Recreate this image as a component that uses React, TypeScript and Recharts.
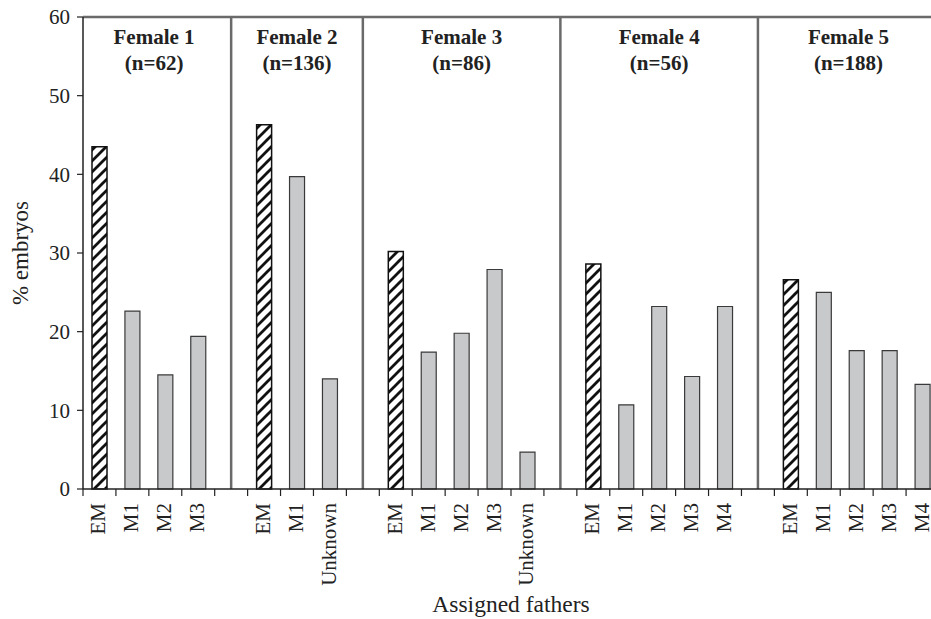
import React from "react";
import { BarChart, Bar, XAxis, YAxis, Cell, ReferenceLine, ReferenceArea } from "recharts";

const groupTitles = ["Female 1", "Female 2", "Female 3", "Female 4", "Female 5"];
const groupSizes = ["(n=62)", "(n=136)", "(n=86)", "(n=56)", "(n=188)"];
const fathers = [
  ["EM", "M1", "M2", "M3"],
  ["EM", "M1", "Unknown"],
  ["EM", "M1", "M2", "M3", "Unknown"],
  ["EM", "M1", "M2", "M3", "M4"],
  ["EM", "M1", "M2", "M3", "M4"],
];
const percents = [
  [43.5, 22.6, 14.5, 19.4],
  [46.3, 39.7, 14.0],
  [30.2, 17.4, 19.8, 27.9, 4.7],
  [28.6, 10.7, 23.2, 14.3, 23.2],
  [26.6, 25.0, 17.6, 17.6, 13.3],
];
const yTicks = [0, 10, 20, 30, 40, 50, 60];

type Row = { id: string; label: string; v: number | null; em: boolean };

const rows: Row[] = [];
fathers.forEach((list, g) => {
  list.forEach((f, i) => rows.push({ id: `g${g}-${i}`, label: f, v: percents[g][i], em: f === "EM" }));
  if (g < fathers.length - 1) rows.push({ id: `sep${g}`, label: "", v: null, em: false });
});
const labelOf: Record<string, string> = {};
rows.forEach((r) => (labelOf[r.id] = r.label));

const FONT = "'Liberation Serif', 'Times New Roman', serif";
const W = 939;
const H = 619;
const Y_AXIS_W = 83;
const X_AXIS_H = 130;
const TOP = 17;
const band = (W - Y_AXIS_W) / rows.length;
const TICK_SIZE = 7;
const TICK_MARGIN = 7;

const FatherTick = (props: any) => {
  const { x, y, payload } = props;
  const axisY = y - TICK_SIZE - TICK_MARGIN;
  const bx = x - band / 2;
  return (
    <g>
      <line x1={bx} x2={bx} y1={axisY} y2={axisY + TICK_SIZE} stroke="#222" strokeWidth={1.2} />
      <text
        x={x - 1}
        y={y}
        transform={`rotate(-90, ${x - 1}, ${y})`}
        textAnchor="end"
        dominantBaseline="central"
        fontFamily={FONT}
        fontSize={21}
        fill="#222"
      >
        {labelOf[payload.value]}
      </text>
    </g>
  );
};

const GroupTitle = (props: any) => {
  const { viewBox, title, size, shift } = props;
  if (!viewBox) return null;
  const cx = viewBox.x + viewBox.width / 2 + shift;
  return (
    <g>
      <text x={cx} y={44} textAnchor="middle" fontFamily={FONT} fontSize={21} fontWeight="bold" fill="#222">
        {title}
      </text>
      <text x={cx} y={70} textAnchor="middle" fontFamily={FONT} fontSize={21} fontWeight="bold" fill="#222">
        {size}
      </text>
    </g>
  );
};

const YLabel = (props: any) => {
  const { viewBox } = props;
  const cy = viewBox ? viewBox.y + viewBox.height / 2 : 253;
  return (
    <text
      x={20}
      y={cy}
      transform={`rotate(-90, 20, ${cy})`}
      textAnchor="middle"
      dominantBaseline="central"
      fontFamily={FONT}
      fontSize={23}
      fill="#222"
    >
      % embryos
    </text>
  );
};

const XLabel = (props: any) => {
  const { viewBox } = props;
  const cx = viewBox ? viewBox.x + viewBox.width / 2 : 510;
  return (
    <text x={cx} y={612} textAnchor="middle" fontFamily={FONT} fontSize={23.5} fill="#222">
      Assigned fathers
    </text>
  );
};

export default function App() {
  const last = fathers.length - 1;
  const areas = fathers.map((list, g) => {
    const firstId = `g${g}-0`;
    const lastId = `g${g}-${list.length - 1}`;
    const x1 = g === 0 ? firstId : `sep${g - 1}`;
    const x2 = g === last ? lastId : `sep${g}`;
    const shift = g === 0 ? -band / 4 - 3 : g === last ? band / 4 : 0;
    return { x1, x2, shift, g };
  });

  return (
    <div style={{ position: "fixed", left: 0, top: 0, width: 931, height: 619, overflow: "hidden", background: "#fff" }}>
      <BarChart width={W} height={H} data={rows} margin={{ top: TOP, right: 0, bottom: 0, left: 0 }} barCategoryGap={0}>
        <defs>
          <pattern id="hatch" patternUnits="userSpaceOnUse" width={11} height={11}>
            <rect width={11} height={11} fill="#fff" />
            <path d="M-2,2 L2,-2 M0,11 L11,0 M9,13 L13,9" stroke="#111" strokeWidth={2.8} />
          </pattern>
        </defs>
        <XAxis
          dataKey="id"
          type="category"
          interval={0}
          height={X_AXIS_H}
          tickSize={TICK_SIZE}
          tickMargin={TICK_MARGIN}
          tickLine={false}
          tick={<FatherTick />}
          axisLine={{ stroke: "#222", strokeWidth: 1.5 }}
          label={<XLabel />}
        />
        <YAxis
          domain={[0, 60]}
          ticks={yTicks}
          width={Y_AXIS_W}
          tickSize={6}
          tickMargin={7}
          axisLine={{ stroke: "#222", strokeWidth: 1.5 }}
          tickLine={{ stroke: "#222", strokeWidth: 1.2 }}
          tick={{ fontFamily: FONT, fontSize: 21, fill: "#222" }}
          label={<YLabel />}
        />
        <ReferenceLine y={60} stroke="#6a6a6a" strokeWidth={2.5} />
        {fathers.slice(0, last).map((_, g) => (
          <ReferenceLine key={`s${g}`} x={`sep${g}`} stroke="#6a6a6a" strokeWidth={2.5} />
        ))}
        {areas.map((a) => (
          <ReferenceArea
            key={`a${a.g}`}
            x1={a.x1}
            x2={a.x2}
            fill="none"
            stroke="none"
            label={<GroupTitle title={groupTitles[a.g]} size={groupSizes[a.g]} shift={a.shift} />}
          />
        ))}
        <Bar dataKey="v" barSize={15} isAnimationActive={false}>
          {rows.map((r) => (
            <Cell
              key={r.id}
              fill={r.em ? "url(#hatch)" : "#c8c9cb"}
              stroke={r.em ? "#111" : "#3a3a3a"}
              strokeWidth={r.em ? 1.5 : 1.2}
            />
          ))}
        </Bar>
      </BarChart>
    </div>
  );
}
